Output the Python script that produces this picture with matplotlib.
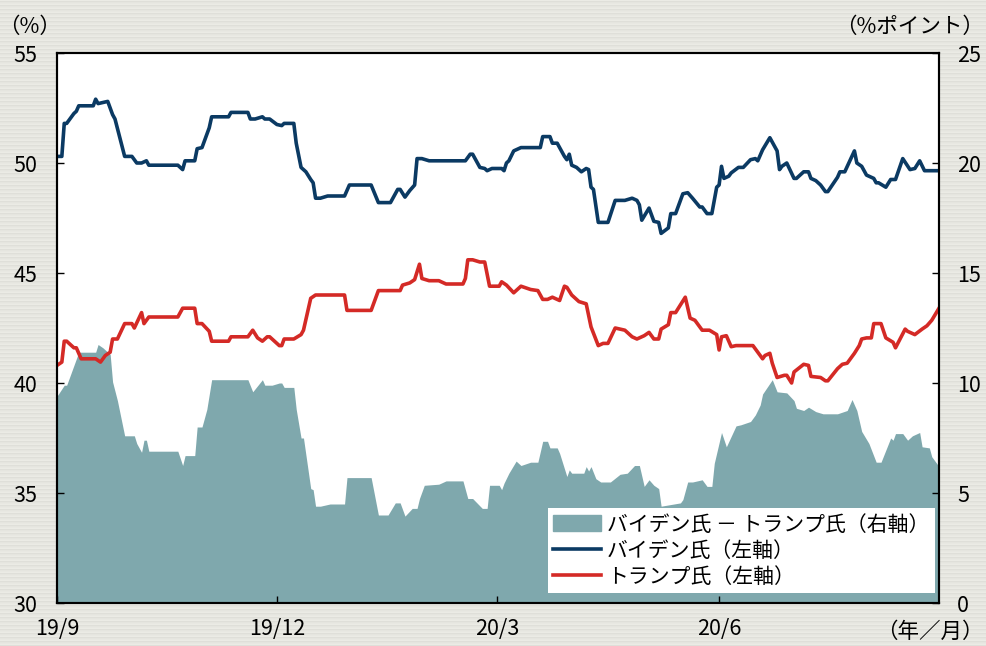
import matplotlib
matplotlib.use('Agg')
import matplotlib.pyplot as plt
import matplotlib.patches as mpatches
import numpy as np
import pandas as pd

plt.rcParams['font.family'] = ['Noto Sans CJK JP', 'DejaVu Sans']

# Biden support (left axis, %)
biden_dates = [
    '2019-09-01', '2019-09-03', '2019-09-04', '2019-09-05', '2019-09-08', '2019-09-09', '2019-09-10',
    '2019-09-16', '2019-09-17', '2019-09-18', '2019-09-22', '2019-09-24', '2019-09-25', '2019-09-29',
    '2019-10-02', '2019-10-04', '2019-10-06', '2019-10-08', '2019-10-09', '2019-10-21', '2019-10-23',
    '2019-10-24', '2019-10-28', '2019-10-29', '2019-10-31', '2019-11-03', '2019-11-04', '2019-11-11',
    '2019-11-12', '2019-11-19', '2019-11-20', '2019-11-22', '2019-11-25', '2019-11-26', '2019-11-28',
    '2019-12-01', '2019-12-03', '2019-12-04', '2019-12-08', '2019-12-09', '2019-12-11', '2019-12-13',
    '2019-12-15', '2019-12-16', '2019-12-17', '2019-12-19', '2019-12-22', '2019-12-29', '2019-12-31',
    '2020-01-09', '2020-01-12', '2020-01-17', '2020-01-20', '2020-01-21', '2020-01-23', '2020-01-25',
    '2020-01-27', '2020-01-28', '2020-01-30', '2020-02-02', '2020-02-17', '2020-02-19', '2020-02-20',
    '2020-02-23', '2020-02-25', '2020-02-26', '2020-02-28', '2020-03-03', '2020-03-04', '2020-03-05',
    '2020-03-06', '2020-03-08', '2020-03-11', '2020-03-19', '2020-03-20', '2020-03-23', '2020-03-24',
    '2020-03-26', '2020-03-29', '2020-03-30', '2020-03-31', '2020-04-01', '2020-04-03', '2020-04-05',
    '2020-04-07', '2020-04-08', '2020-04-09', '2020-04-10', '2020-04-12', '2020-04-16', '2020-04-19',
    '2020-04-23', '2020-04-26', '2020-04-28', '2020-04-29', '2020-04-30', '2020-05-03', '2020-05-05',
    '2020-05-07', '2020-05-08', '2020-05-11', '2020-05-12', '2020-05-14', '2020-05-17', '2020-05-19',
    '2020-05-21', '2020-05-24', '2020-05-25', '2020-05-27', '2020-05-29', '2020-05-31', '2020-06-01',
    '2020-06-02', '2020-06-03', '2020-06-05', '2020-06-06', '2020-06-09', '2020-06-11', '2020-06-14',
    '2020-06-16', '2020-06-17', '2020-06-19', '2020-06-22', '2020-06-23', '2020-06-25', '2020-06-26',
    '2020-06-27', '2020-06-29', '2020-07-02', '2020-07-03', '2020-07-06', '2020-07-08', '2020-07-09',
    '2020-07-11', '2020-07-13', '2020-07-15', '2020-07-16', '2020-07-20', '2020-07-21', '2020-07-23',
    '2020-07-27', '2020-07-28', '2020-07-30', '2020-08-01', '2020-08-04', '2020-08-05', '2020-08-06',
    '2020-08-09', '2020-08-11', '2020-08-13', '2020-08-16', '2020-08-19', '2020-08-21', '2020-08-23',
    '2020-08-25', '2020-08-31',
]
biden = [
    50.3, 50.3, 51.8, 51.8, 52.25, 52.35, 52.6,
    52.6, 52.9, 52.7, 52.8, 52.2, 52.0, 50.3,
    50.3, 50.0, 50.0, 50.1, 49.9, 49.9, 49.7,
    50.1, 50.1, 50.65, 50.7, 51.6, 52.1, 52.1,
    52.3, 52.3, 52.0, 52.0, 52.1, 52.0, 52.0,
    51.75, 51.7, 51.8, 51.8, 50.9, 49.8, 49.6,
    49.25, 49.1, 48.4, 48.4, 48.5, 48.5, 49.0,
    49.0, 48.2, 48.2, 48.8, 48.8, 48.45, 48.75,
    49.0, 50.2, 50.2, 50.1, 50.1, 50.4, 50.4,
    49.8, 49.75, 49.65, 49.75, 49.75, 49.65, 50.0,
    50.1, 50.55, 50.7, 50.7, 51.2, 51.2, 50.9,
    50.9, 50.3, 50.15, 50.4, 49.9, 49.8, 49.6,
    49.75, 49.7, 48.9, 48.8, 47.3, 47.3, 48.3,
    48.3, 48.4, 48.3, 48.1, 47.4, 47.95, 47.35,
    47.3, 46.8, 47.05, 47.7, 47.7, 48.6, 48.65,
    48.4, 48.0, 48.0, 47.7, 47.7, 48.9, 49.0,
    49.85, 49.3, 49.4, 49.55, 49.8, 49.8, 50.15,
    50.2, 50.1, 50.6, 51.15, 50.95, 50.55, 49.7,
    49.85, 50.0, 49.3, 49.3, 49.6, 49.6, 49.3,
    49.2, 49.0, 48.7, 48.7, 49.35, 49.6, 49.6,
    50.55, 50.0, 49.85, 49.45, 49.3, 49.1, 49.1,
    48.9, 49.25, 49.25, 50.2, 49.7, 49.75, 50.1,
    49.65, 49.65,
]

# Trump support (left axis, %)
trump_dates = [
    '2019-09-01', '2019-09-03', '2019-09-04', '2019-09-05', '2019-09-08', '2019-09-09', '2019-09-11',
    '2019-09-17', '2019-09-19', '2019-09-21', '2019-09-23', '2019-09-24', '2019-09-26', '2019-09-29',
    '2019-10-02', '2019-10-03', '2019-10-06', '2019-10-07', '2019-10-09', '2019-10-21', '2019-10-23',
    '2019-10-28', '2019-10-29', '2019-10-31', '2019-11-03', '2019-11-04', '2019-11-11', '2019-11-12',
    '2019-11-19', '2019-11-21', '2019-11-23', '2019-11-25', '2019-11-27', '2019-11-28', '2019-12-02',
    '2019-12-03', '2019-12-04', '2019-12-08', '2019-12-11', '2019-12-12', '2019-12-15', '2019-12-17',
    '2019-12-29', '2019-12-30', '2020-01-09', '2020-01-12', '2020-01-21', '2020-01-22', '2020-01-25',
    '2020-01-27', '2020-01-29', '2020-01-30', '2020-02-02', '2020-02-06', '2020-02-09', '2020-02-16',
    '2020-02-17', '2020-02-18', '2020-02-20', '2020-02-23', '2020-02-25', '2020-02-27', '2020-03-02',
    '2020-03-03', '2020-03-05', '2020-03-08', '2020-03-11', '2020-03-15', '2020-03-18', '2020-03-20',
    '2020-03-22', '2020-03-24', '2020-03-26', '2020-03-27', '2020-03-29', '2020-03-30', '2020-04-01',
    '2020-04-04', '2020-04-07', '2020-04-09', '2020-04-12', '2020-04-14', '2020-04-16', '2020-04-19',
    '2020-04-23', '2020-04-26', '2020-04-28', '2020-05-01', '2020-05-03', '2020-05-05', '2020-05-07',
    '2020-05-08', '2020-05-11', '2020-05-12', '2020-05-14', '2020-05-18', '2020-05-20', '2020-05-22',
    '2020-05-25', '2020-05-28', '2020-05-31', '2020-06-01', '2020-06-02', '2020-06-04', '2020-06-06',
    '2020-06-08', '2020-06-15', '2020-06-19', '2020-06-20', '2020-06-22', '2020-06-23', '2020-06-25',
    '2020-06-28', '2020-06-29', '2020-07-01', '2020-07-02', '2020-07-06', '2020-07-08', '2020-07-09',
    '2020-07-13', '2020-07-15', '2020-07-16', '2020-07-20', '2020-07-22', '2020-07-24', '2020-07-27',
    '2020-07-29', '2020-07-30', '2020-08-01', '2020-08-03', '2020-08-04', '2020-08-07', '2020-08-09',
    '2020-08-12', '2020-08-13', '2020-08-17', '2020-08-18', '2020-08-21', '2020-08-24', '2020-08-26',
    '2020-08-28', '2020-08-31',
]
trump = [
    40.8, 40.95, 41.9, 41.9, 41.6, 41.6, 41.1,
    41.1, 40.95, 41.25, 41.4, 42.0, 42.0, 42.7,
    42.7, 42.5, 43.2, 42.7, 43.0, 43.0, 43.4,
    43.4, 42.7, 42.7, 42.35, 41.9, 41.9, 42.1,
    42.1, 42.4, 42.05, 41.9, 42.1, 42.1, 41.7,
    41.7, 42.0, 42.0, 42.2, 42.4, 43.85, 44.0,
    44.0, 43.3, 43.3, 44.2, 44.2, 44.45, 44.55,
    44.7, 45.4, 44.75, 44.65, 44.65, 44.5, 44.5,
    44.75, 45.6, 45.6, 45.5, 45.5, 44.4, 44.4,
    44.6, 44.45, 44.1, 44.4, 44.25, 44.2, 43.8,
    43.8, 43.9, 43.8, 43.75, 44.4, 44.35, 44.0,
    43.7, 43.6, 42.55, 41.7, 41.8, 41.8, 42.5,
    42.4, 42.1, 42.0, 42.15, 42.3, 42.0, 42.0,
    42.45, 42.65, 43.2, 43.2, 43.9, 42.95, 42.85,
    42.4, 42.4, 42.2, 41.5, 42.1, 42.15, 41.65,
    41.7, 41.7, 41.1, 41.25, 41.35, 40.9, 40.25,
    40.35, 40.35, 40.0, 40.5, 40.85, 40.8, 40.3,
    40.25, 40.1, 40.1, 40.65, 40.85, 40.9, 41.35,
    41.7, 42.0, 42.05, 42.05, 42.7, 42.7, 42.05,
    41.85, 41.6, 42.45, 42.35, 42.2, 42.45, 42.6,
    42.85, 43.4,
]

# Biden minus Trump spread (right axis, % points)
gap_dates = [
    '2019-09-01', '2019-09-04', '2019-09-05', '2019-09-10', '2019-09-17', '2019-09-18', '2019-09-20',
    '2019-09-23', '2019-09-24', '2019-09-26', '2019-09-29', '2019-10-03', '2019-10-04', '2019-10-06',
    '2019-10-07', '2019-10-08', '2019-10-09', '2019-10-21', '2019-10-23', '2019-10-24', '2019-10-28',
    '2019-10-29', '2019-10-31', '2019-11-02', '2019-11-04', '2019-11-19', '2019-11-21', '2019-11-25',
    '2019-11-26', '2019-11-29', '2019-12-02', '2019-12-03', '2019-12-04', '2019-12-08', '2019-12-09',
    '2019-12-11', '2019-12-12', '2019-12-15', '2019-12-16', '2019-12-17', '2019-12-19', '2019-12-23',
    '2019-12-29', '2019-12-30', '2020-01-09', '2020-01-12', '2020-01-16', '2020-01-19', '2020-01-21',
    '2020-01-23', '2020-01-26', '2020-01-28', '2020-01-29', '2020-01-31', '2020-02-06', '2020-02-09',
    '2020-02-16', '2020-02-18', '2020-02-20', '2020-02-24', '2020-02-26', '2020-02-27', '2020-03-02',
    '2020-03-03', '2020-03-04', '2020-03-06', '2020-03-09', '2020-03-11', '2020-03-15', '2020-03-18',
    '2020-03-20', '2020-03-22', '2020-03-23', '2020-03-26', '2020-03-27', '2020-03-30', '2020-03-31',
    '2020-04-01', '2020-04-06', '2020-04-07', '2020-04-08', '2020-04-09', '2020-04-11', '2020-04-13',
    '2020-04-17', '2020-04-21', '2020-04-24', '2020-04-27', '2020-04-29', '2020-05-01', '2020-05-03',
    '2020-05-05', '2020-05-07', '2020-05-08', '2020-05-16', '2020-05-17', '2020-05-19', '2020-05-21',
    '2020-05-25', '2020-05-27', '2020-05-29', '2020-05-30', '2020-06-02', '2020-06-04', '2020-06-08',
    '2020-06-10', '2020-06-14', '2020-06-16', '2020-06-18', '2020-06-19', '2020-06-23', '2020-06-25',
    '2020-06-29', '2020-07-02', '2020-07-03', '2020-07-06', '2020-07-08', '2020-07-11', '2020-07-14',
    '2020-07-20', '2020-07-24', '2020-07-26', '2020-07-28', '2020-07-30', '2020-08-02', '2020-08-05',
    '2020-08-07', '2020-08-11', '2020-08-12', '2020-08-13', '2020-08-16', '2020-08-18', '2020-08-20',
    '2020-08-23', '2020-08-24', '2020-08-27', '2020-08-28', '2020-08-31',
]
gap = [
    9.4, 9.9, 9.9, 11.4, 11.4, 11.75, 11.6,
    11.3, 10.05, 9.2, 7.6, 7.6, 7.25, 6.85,
    7.4, 7.4, 6.9, 6.9, 6.25, 6.7, 6.7,
    8.0, 8.0, 8.8, 10.15, 10.15, 9.6, 10.15,
    9.9, 9.9, 10.0, 10.0, 9.8, 9.8, 8.8,
    7.5, 7.5, 5.2, 5.15, 4.4, 4.4, 4.5,
    4.5, 5.7, 5.7, 4.0, 4.0, 4.55, 4.55,
    3.95, 4.3, 4.3, 4.75, 5.35, 5.4, 5.55,
    5.55, 4.75, 4.75, 4.3, 4.3, 5.35, 5.35,
    5.15, 5.45, 5.9, 6.45, 6.25, 6.4, 6.4,
    7.35, 7.35, 7.05, 7.05, 6.8, 5.75, 6.05,
    5.9, 5.9, 6.2, 6.0, 6.2, 5.65, 5.5,
    5.5, 5.85, 5.9, 6.25, 6.25, 5.3, 5.6,
    5.35, 5.2, 4.4, 4.55, 4.7, 5.5, 5.5,
    5.6, 5.3, 5.3, 6.35, 7.75, 7.1, 8.05,
    8.1, 8.25, 8.55, 9.0, 9.5, 10.15, 9.6,
    9.55, 9.2, 8.85, 8.75, 8.9, 8.7, 8.6,
    8.6, 8.75, 9.25, 8.75, 7.8, 7.25, 6.4,
    6.4, 7.5, 7.4, 7.7, 7.7, 7.4, 7.6,
    7.75, 7.1, 7.05, 6.65, 6.2,
]

tick_dates = ['2019-09-01', '2019-12-01', '2020-03-01', '2020-06-01']
tick_labels = ['19/9', '19/12', '20/3', '20/6']

legend_labels = ['バイデン氏 － トランプ氏（右軸）', 'バイデン氏（左軸）', 'トランプ氏（左軸）']

fill_color = '#7fa8ad'
biden_color = '#0b3a63'
trump_color = '#d42a26'

fig = plt.figure(figsize=(9.87, 6.46), dpi=100)
fig.patch.set_facecolor('#e3e3dd')

# striped paper texture behind everything
bg = fig.add_axes([0, 0, 1, 1], zorder=-10)
stripes = np.tile(np.array([0.925, 0.875, 0.9, 0.91])[:, None], (162, 4))[:646]
bg.imshow(stripes[:, :, None] * np.array([1.0, 1.0, 0.975]), aspect='auto',
          interpolation='nearest', extent=(0, 1, 0, 1))
bg.axis('off')

ax = fig.add_axes([57 / 987, 43 / 646, 882 / 987, 550 / 646])
ax2 = ax.twinx()
ax.set_zorder(ax2.get_zorder() + 1)
ax.patch.set_visible(False)
ax2.patch.set_visible(True)
ax2.patch.set_facecolor('white')

ax2.fill_between(pd.to_datetime(gap_dates), gap, 0, color=fill_color, lw=0)
ax.plot(pd.to_datetime(biden_dates), biden, color=biden_color, lw=2.6)
ax.plot(pd.to_datetime(trump_dates), trump, color=trump_color, lw=2.6)

ax.set_xlim(pd.Timestamp('2019-09-01'), pd.Timestamp('2020-08-31'))
ax.set_ylim(30, 55)
ax2.set_ylim(0, 25)

ax.set_xticks(pd.to_datetime(tick_dates))
ax.set_xticklabels(tick_labels)
ax.set_yticks(range(30, 56, 5))
ax2.set_yticks(range(0, 26, 5))

ax.tick_params(axis='x', direction='in', length=5, width=1, pad=11, labelsize=15.5)
ax.tick_params(axis='y', direction='in', length=5, width=1, pad=14, labelsize=15.5)
ax2.tick_params(axis='y', direction='in', length=5, width=1, pad=13, labelsize=15.5)

for a in (ax, ax2):
    for s in a.spines.values():
        s.set_linewidth(1.5)
        s.set_color('black')

handles = [
    mpatches.Patch(color=fill_color),
    plt.Line2D([], [], color=biden_color, lw=2.6),
    plt.Line2D([], [], color=trump_color, lw=2.6),
]
leg = ax.legend(handles, legend_labels, loc='lower right', bbox_to_anchor=(0.995, 0.018),
                borderaxespad=0, fontsize=15, frameon=True, fancybox=False, framealpha=1,
                edgecolor='none', handlelength=2.3, handleheight=0.8, handletextpad=0.3,
                labelspacing=0.2, borderpad=0.25)

fig.text(30 / 987, 1 - 27 / 646, '（%）', ha='center', va='center', fontsize=15.5)
fig.text(984 / 987, 1 - 27 / 646, '（%ポイント）', ha='right', va='center', fontsize=15.5)
fig.text(984 / 987, 1 - 632 / 646, '（年／月）', ha='right', va='center', fontsize=15.5)

fig.savefig('out.png', dpi=100, facecolor=fig.get_facecolor())
